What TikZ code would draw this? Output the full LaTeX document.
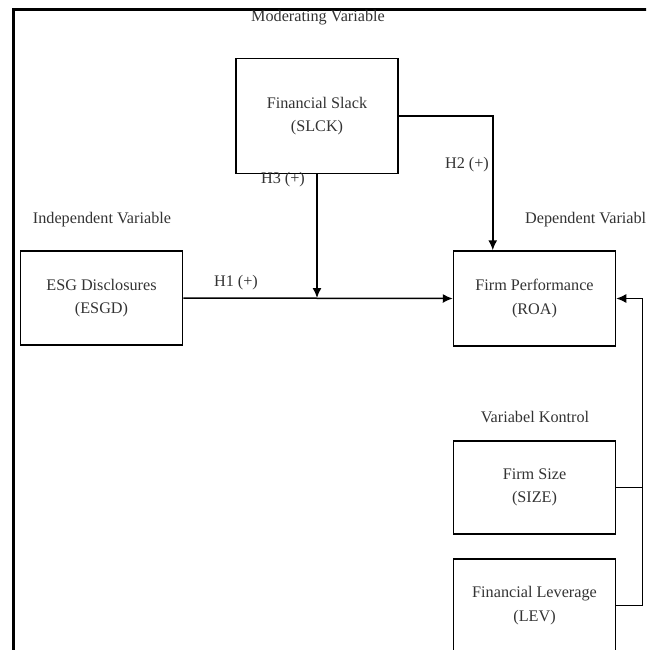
\documentclass[tikz,border=0pt]{standalone}
\usepackage{fontspec}
\setmainfont{Liberation Serif}
\usetikzlibrary{arrows.meta,calc}
\begin{document}
\begin{tikzpicture}[x=1pt,y=-1pt,
  box/.style={draw,line width=1.5pt,minimum width=162pt,align=center,font=\fontsize{16.2}{23.5}\selectfont,text=black!80,inner sep=0pt},
  lbl/.style={font=\fontsize{16.2}{19}\selectfont,text=black!80,inner sep=1pt},
  conn/.style={line width=1.5pt},
  arr/.style={conn,-{Latex[length=10pt,width=9pt]}}]
\useasboundingbox (0,0) rectangle (646,650);
\clip (0,0) rectangle (646,650);
\draw[line width=3pt] (13,660) -- (13,10) -- (660,10);
\node[box,minimum height=115pt] (slck) at (317,116) {Financial Slack\\(SLCK)};
\node[box,minimum height=94pt] (esgd) at (101.5,298) {ESG Disclosures\\(ESGD)};
\node[box,minimum height=95pt] (roa) at (534.5,298.5) {Firm Performance\\(ROA)};
\node[box,minimum height=93pt] (size) at (534.5,487.5) {Firm Size\\(SIZE)};
\node[box,minimum height=93pt] (lev) at (534.5,605.5) {Financial Leverage\\(LEV)};
\node[lbl] (tmod) at (318,18) {Moderating Variable};
\node[lbl] (tind) at (102,220) {Independent Variable};
\node[lbl,anchor=west] (tdep) at (524,220) {Dependent Variabl};
\node[lbl] (tkon) at (535,417) {Variabel Kontrol};
\node[lbl] (h2) at (467,165) {H2 (+)};
\node[lbl] (h3) at (283,180) {H3 (+)};
\node[lbl] (h1) at (236,283) {H1 (+)};
\coordinate (k) at ($(roa.east)+(26,0)$);
\draw[arr] (slck.east) -| ([xshift=40pt]roa.north west);
\draw[arr] (slck.south) -- (slck.south |- esgd.east);
\draw[arr] (esgd.east) -- (roa.west);
\draw[arr] (lev.east) -| (k) -- (roa.east);
\draw[conn] (size.east) -- (size.east -| k);
\end{tikzpicture}
\end{document}
